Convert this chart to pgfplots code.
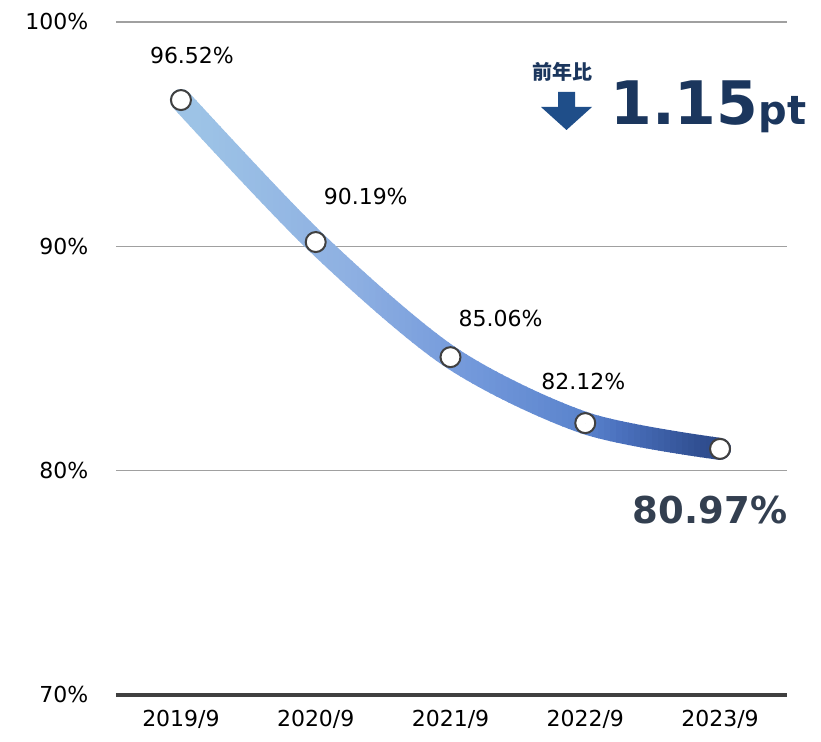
\documentclass[border=0pt]{standalone}
\usepackage{pgfplots}
\usepackage{pgfplotstable}
\pgfplotsset{compat=1.18}
\usepackage{fontspec}
\setmainfont{DejaVu Sans}
\newfontfamily\cjk{Noto Sans CJK JP}
\definecolor{gridgray}{RGB}{160,160,160}
\definecolor{basegray}{RGB}{64,64,64}
\definecolor{mkgray}{RGB}{64,64,64}
\definecolor{navytext}{RGB}{27,54,93}
\definecolor{arrowblue}{RGB}{31,78,137}
\definecolor{bigtext}{RGB}{51,63,80}

\pgfplotstableread{
x y dx dy
0 96.52 5.5 22.5
1 90.19 25 23
2 85.06 25 19.5
3 82.12 -1 21
4 80.97 -5 -30.5
}\ratedata

% horizontal gradient of the thick line (positions in px from x=160)
\pgfplotsset{
  colormap={linegrad}{
    rgb255(0pt)=(157,195,230)
    rgb255(40pt)=(157,195,230)
    rgb255(190pt)=(142,176,226)
    rgb255(320pt)=(113,151,218)
    rgb255(425pt)=(90,131,204)
    rgb255(460pt)=(75,113,190)
    rgb255(540pt)=(48,79,145)
    rgb255(590pt)=(44,68,128)
  },
  base/.style={
    scale only axis, width=335.5pt, height=336.5pt,
    xmin=-0.482, xmax=4.497, ymin=70, ymax=100,
    at={(0pt,0pt)}, anchor=south west,
    /pgf/number format/assume math mode=true,
  },
}

\begin{document}
\begin{tikzpicture}
\useasboundingbox (-58pt,-23.5pt) rectangle (352.5pt,347.5pt);

% grid, ticks
\begin{axis}[base,
  axis line style={draw=none}, tick style={draw=none},
  ytick={80,90,100}, ymajorgrids,
  grid style={gridgray, line width=0.6pt},
  extra y ticks={70},
  extra y tick style={grid style={basegray, line width=2pt}},
  yticklabel={\pgfmathprintnumber{\tick}\%},
  yticklabel style={anchor=east, xshift=-10.3pt, font=\fontsize{11}{13}\selectfont},
  xtick={0,1,2,3,4},
  xticklabels={2019/9,2020/9,2021/9,2022/9,2023/9},
  xticklabel style={yshift=-4pt, font=\fontsize{11}{13}\selectfont},
]
\addplot[draw=none, forget plot] table[x=x,y=y] {\ratedata};
\end{axis}

% thick smooth line, drawn in vertical bands to get the gradient
\foreach \i in {0,...,97}{
  \pgfmathsetmacro\xa{(160+\i*6-116)*0.5}
  \pgfmathsetmacro\xb{\xa+3.4}
  \pgfmathsetmacro\cv{(\i*6+3)/590*1000}
  \begin{scope}
    \clip (\xa pt,-10pt) rectangle (\xb pt,350pt);
    \begin{axis}[base, hide axis, clip=false]
      \addplot[smooth, line width=11pt, line cap=round,
        color of colormap={\cv\space of linegrad}] table[x=x,y=y] {\ratedata};
    \end{axis}
  \end{scope}
}

% markers and labels
\begin{axis}[base, hide axis, clip=false]
\addplot[only marks, mark=*, mark size=5pt,
  mark options={fill=white, draw=mkgray, line width=1pt}] table[x=x,y=y] {\ratedata};
\addplot[only marks, mark=*, mark size=0pt, mark options={draw=none, fill=none},
  restrict x to domain=0:3,
  visualization depends on={\thisrow{dx} \as \dx},
  visualization depends on={\thisrow{dy} \as \dy},
  nodes near coords={\pgfmathprintnumber[fixed,precision=2,fixed zerofill]{\pgfplotspointmeta}\%},
  every node near coord/.style={anchor=center, xshift=\dx pt, yshift=\dy pt,
    font=\fontsize{11}{13}\selectfont, text=black},
] table[x=x,y=y] {\ratedata};
\addplot[only marks, mark=*, mark size=0pt, mark options={draw=none, fill=none},
  restrict x to domain=4:4,
  visualization depends on={\thisrow{dx} \as \dx},
  visualization depends on={\thisrow{dy} \as \dy},
  nodes near coords={\pgfmathprintnumber[fixed,precision=2,fixed zerofill]{\pgfplotspointmeta}\%},
  every node near coord/.style={anchor=center, xshift=\dx pt, yshift=\dy pt,
    font=\fontsize{18.5}{20}\selectfont\bfseries, text=bigtext},
] table[x=x,y=y] {\ratedata};
\end{axis}

% year-on-year annotation
\node[anchor=center, inner sep=0pt, text=navytext, font=\cjk\bfseries\fontsize{10}{12}\selectfont]
  at (223pt,311.5pt) {前年比};
\fill[arrowblue] (221pt,301.5pt) -- (229.5pt,301.5pt) -- (229.5pt,294pt) -- (238pt,294pt)
  -- (225.25pt,282.5pt) -- (212.5pt,294pt) -- (221pt,294pt) -- cycle;
\node[anchor=base west, inner sep=0pt, text=navytext, font=\bfseries]
  at (247pt,285pt) {{\fontsize{30}{30}\selectfont 1.15}{\fontsize{20}{20}\selectfont pt}};
\end{tikzpicture}
\end{document}
